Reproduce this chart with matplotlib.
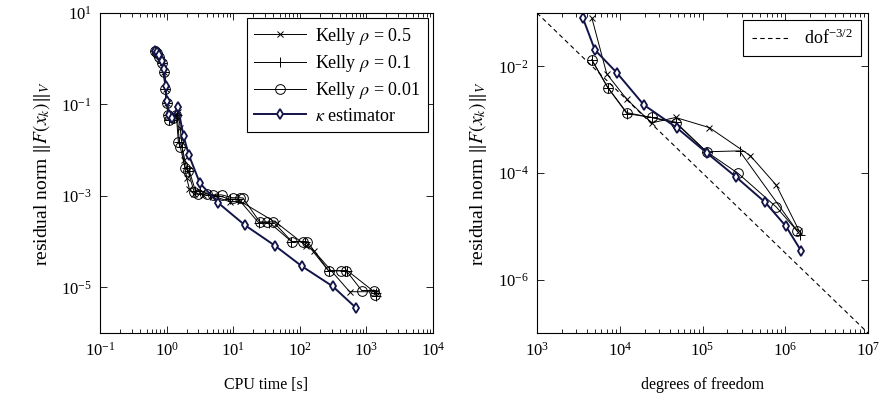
import numpy as np
import matplotlib
matplotlib.use('Agg')
import matplotlib.pyplot as plt
from matplotlib.ticker import FixedLocator, LogLocator, LogFormatterMathtext, NullLocator

plt.rcParams['font.family'] = ['Liberation Serif', 'DejaVu Serif']
plt.rcParams['mathtext.fontset'] = 'stix'
plt.rcParams['font.size'] = 11

navy = '#121448'

# ---- left: residual vs CPU time ----
cpu_kelly05 = [0.67, 0.72, 0.78, 0.85, 0.92, 0.97, 1.02, 1.1, 1.25, 1.5, 1.6, 1.8, 2.0, 2.2, 2.6, 3.5,
               5.0, 8.9, 12.6, 46, 126, 162, 560, 1400]
res_kelly05 = [1.5, 1.35, 1.1, 0.8, 0.5, 0.22, 0.11, 0.06, 0.05, 0.07, 0.03, 0.006, 0.0025, 1.4e-3, 1.1e-3, 1.05e-3,
               1.0e-3, 7.4e-4, 7.7e-4, 2.5e-4, 8e-5, 6.3e-5, 8e-6, 8e-6]

cpu_kelly01 = [0.67, 0.72, 0.78, 0.85, 0.9, 0.95, 1.0, 1.05, 1.1, 1.3, 1.45, 1.55, 1.7, 2.0, 2.2, 2.7, 3.2,
               4.5, 6.0, 9.0, 12.0, 24, 35, 75, 120, 270, 480, 520, 1380, 1400]
res_kelly01 = [1.5, 1.35, 1.1, 0.8, 0.5, 0.22, 0.11, 0.06, 0.045, 0.05, 0.06, 0.015, 0.012, 0.004, 0.0035, 0.0013, 1.3e-3,
               1.05e-3, 1.0e-3, 8.5e-4, 8.5e-4, 2.6e-4, 2.6e-4, 1.0e-4, 1.0e-4, 2.3e-5, 2.3e-5, 2.3e-5, 7.5e-6, 6.3e-6]

cpu_kelly001 = [0.67, 0.72, 0.78, 0.85, 0.9, 0.95, 1.0, 1.05, 1.1, 1.25, 1.4, 1.5, 1.6, 1.9, 2.1, 2.6, 3.0,
                4.0, 5.0, 6.7, 9.8, 12.6, 14, 25, 32, 40, 76, 110, 130, 270, 420, 500, 850, 1320, 1350]
res_kelly001 = [1.5, 1.35, 1.1, 0.8, 0.5, 0.22, 0.11, 0.06, 0.045, 0.05, 0.06, 0.015, 0.012, 0.004, 0.0035, 0.0012, 0.0011,
                1.1e-3, 1.05e-3, 1.05e-3, 9.1e-4, 9.1e-4, 9.0e-4, 2.7e-4, 2.7e-4, 2.7e-4, 1.0e-4, 1.0e-4, 1.0e-4,
                2.3e-5, 2.3e-5, 2.3e-5, 8.5e-6, 8.5e-6, 6.8e-6]

cpu_kappa = [0.67, 0.72, 0.78, 0.85, 0.92, 0.97, 1.0, 1.1, 1.2, 1.48, 1.8, 2.16, 3.16, 5.9, 14.9, 42, 107, 312, 690]
res_kappa = [1.5, 1.4, 1.2, 0.9, 0.6, 0.25, 0.12, 0.06, 0.05, 0.086, 0.02, 0.0078, 0.0019, 7.1e-4, 2.3e-4,
             8.2e-5, 2.9e-5, 1.05e-5, 3.6e-6]

# ---- right: residual vs degrees of freedom ----
dof_kelly05 = [4600, 6970, 12200, 24300, 47300, 1.21e5, 3.8e5, 7.8e5, 1.48e6]
err_kelly05 = [0.081, 0.0072, 0.0024, 8.7e-4, 1.1e-3, 7.1e-4, 2.1e-4, 5.9e-5, 8.1e-6]

dof_kelly01 = [4600, 7170, 12200, 24300, 47300, 1.12e5, 2.8e5, 1.5e6]
err_kelly01 = [0.0132, 0.0040, 1.3e-3, 1.1e-3, 9.0e-4, 2.5e-4, 2.6e-4, 7.0e-6]

dof_kelly001 = [4600, 7170, 12200, 24300, 47300, 1.12e5, 2.7e5, 7.8e5, 1.4e6]
err_kelly001 = [0.0132, 0.0040, 1.35e-3, 1.1e-3, 8.7e-4, 2.5e-4, 9.8e-5, 2.3e-5, 8.1e-6]

dof_kappa = [3580, 5000, 9200, 19500, 48600, 1.12e5, 2.57e5, 5.75e5, 1.02e6, 1.55e6]
err_kappa = [0.081, 0.0204, 0.0076, 0.0019, 7.1e-4, 2.4e-4, 8.3e-5, 2.8e-5, 1.0e-5, 3.5e-6]

dof_ref = [1e3, 1e7]
err_ref = [1e-1, 1e-7]

fig = plt.figure(figsize=(8.81, 4.01), dpi=100)
ax1 = fig.add_axes([100/881, 68/401, 333/881, 320/401])
ax2 = fig.add_axes([537/881, 68/401, 331/881, 320/401])

kw05 = dict(color='black', lw=0.7, marker='x', ms=5, mew=0.7)
kw01 = dict(color='black', lw=0.7, marker='+', ms=7, mew=0.7)
kw001 = dict(color='black', lw=0.7, marker='o', ms=7, mew=0.7, mfc='none')
kwk = dict(color=navy, lw=1.4, marker='d', ms=5, mew=1.3, mfc='white', mec=navy)

ax1.plot(cpu_kelly05, res_kelly05, label=r'Kelly $\rho$ = 0.5', **kw05)
ax1.plot(cpu_kelly01, res_kelly01, label=r'Kelly $\rho$ = 0.1', **kw01)
ax1.plot(cpu_kelly001, res_kelly001, label=r'Kelly $\rho$ = 0.01', **kw001)
ax1.plot(cpu_kappa, res_kappa, label=r'$\kappa$ estimator', **kwk)

ax2.plot(dof_ref, err_ref, color='black', lw=0.8, ls=(0, (4, 3)), label=r'dof$^{\mathregular{-3/2}}$')
ax2.plot(dof_kelly05, err_kelly05, **kw05)
ax2.plot(dof_kelly01, err_kelly01, **kw01)
ax2.plot(dof_kelly001, err_kelly001, **kw001)
ax2.plot(dof_kappa, err_kappa, **kwk)

for ax in (ax1, ax2):
    ax.set_xscale('log')
    ax.set_yscale('log')
    ax.xaxis.set_major_locator(LogLocator(base=10, numticks=20))
    ax.xaxis.set_minor_locator(LogLocator(base=10, subs=np.arange(2, 10), numticks=20))
    ax.xaxis.set_major_formatter(LogFormatterMathtext())
    ax.yaxis.set_minor_locator(NullLocator())
    ax.yaxis.set_major_formatter(LogFormatterMathtext())
    ax.tick_params(which='both', direction='in', top=True, right=True, width=0.6, labelsize=12, pad=6)
    ax.tick_params(which='major', length=5)
    ax.tick_params(which='minor', length=3)
    for s in ax.spines.values():
        s.set_linewidth(0.8)
    ax.set_ylabel(r'residual norm $\Vert F(x_k)\Vert_V$', fontsize=14, labelpad=6)

ax1.set_xlim(1e-1, 1e4)
ax1.set_ylim(1e-6, 1e1)
ax1.yaxis.set_major_locator(FixedLocator([1e-5, 1e-3, 1e-1, 1e1]))
ax1.set_xlabel('CPU time [s]', fontsize=11.5, labelpad=13)

ax2.set_xlim(1e3, 1e7)
ax2.set_ylim(1e-7, 1e-1)
ax2.yaxis.set_major_locator(FixedLocator([1e-6, 1e-4, 1e-2]))
ax2.set_xlabel('degrees of freedom', fontsize=11.5, labelpad=13)

leg1 = ax1.legend(loc='upper right', fontsize=13, fancybox=False, edgecolor='black', framealpha=1,
                  handlelength=2.9, handletextpad=0.5, borderpad=0.4, labelspacing=0.35, borderaxespad=0.3)
leg1.get_frame().set_linewidth(0.8)
leg2 = ax2.legend(loc='upper right', fontsize=13, fancybox=False, edgecolor='black', framealpha=1,
                  handlelength=2.0, handletextpad=0.9, borderpad=0.45, borderaxespad=0.4)
leg2.get_frame().set_linewidth(0.8)

fig.savefig('out.png', dpi=100)
